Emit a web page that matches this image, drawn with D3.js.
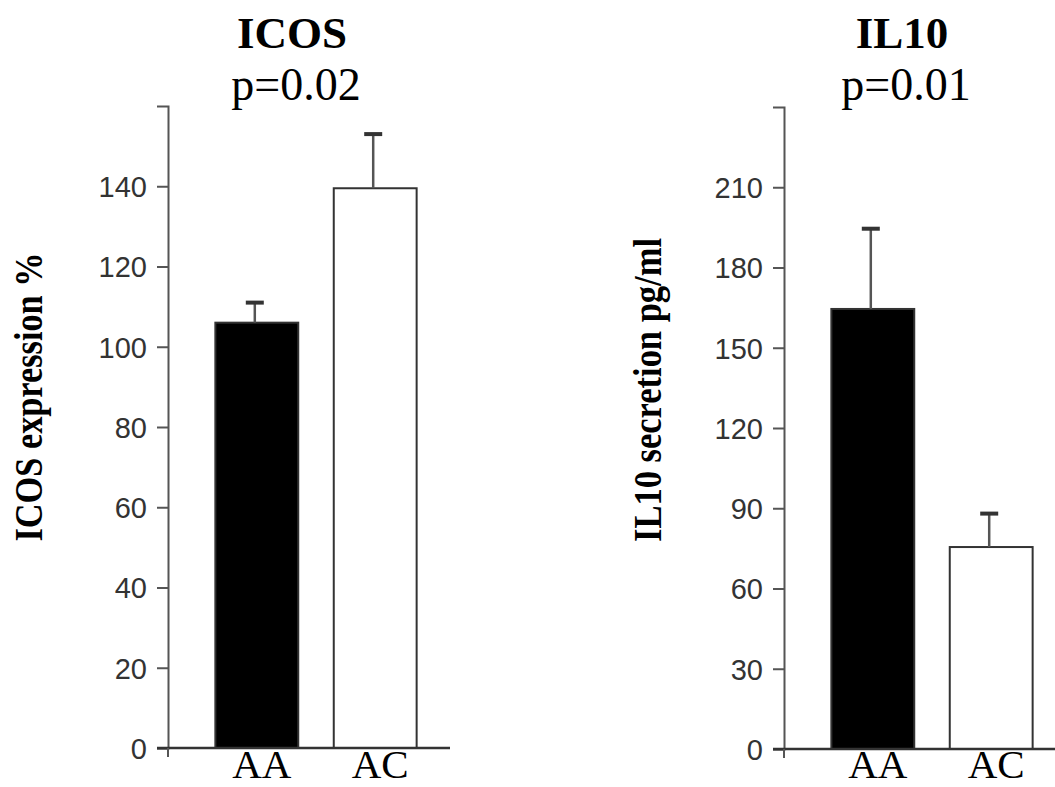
<!DOCTYPE html>
<html>
<head>
    <script src="https://cdnjs.cloudflare.com/ajax/libs/d3/7.8.5/d3.min.js"></script>
    <style>
        body { margin: 0; background: white; }
        .tick text {
            font-family: "Liberation Sans", Arial, sans-serif;
            font-size: 29px;
            fill: #333;
        }
        .title {
            font-family: "Liberation Serif", "Times New Roman", serif;
            font-weight: bold;
            font-size: 45px;
            text-anchor: middle;
        }
        .pval {
            font-family: "Liberation Serif", "Times New Roman", serif;
            font-size: 46px;
            text-anchor: middle;
        }
        .ylabel {
            font-family: "Liberation Serif", "Times New Roman", serif;
            font-weight: bold;
            font-size: 41px;
            text-anchor: middle;
        }
        .cat {
            font-family: "Liberation Serif", "Times New Roman", serif;
            font-size: 41px;
            text-anchor: middle;
        }
    </style>
</head>
<body>
    <svg width="1055" height="787"></svg>
    <script>
        // Data
        const groups = ["AA", "AC"];
        const icosMeans = [106, 139.5];
        const icosErrors = [5, 13.5];
        const icosTicks = [0, 20, 40, 60, 80, 100, 120, 140];
        const il10Means = [164.5, 75.5];
        const il10Errors = [30, 12.5];
        const il10Ticks = [0, 30, 60, 90, 120, 150, 180, 210];
        const barColors = ["#000", "#fff"];

        const svg = d3.select("svg");

        const panels = [
            {
                title: "ICOS", p: "p=0.02", ylabel: "ICOS expression %",
                means: icosMeans, errors: icosErrors, ticks: icosTicks, yMax: 160,
                left: 168, top: 106, bottom: 748, right: 450,
                titleX: 292, labelX: 42, labelY: 397, labelLen: 289
            },
            {
                title: "IL10", p: "p=0.01", ylabel: "IL10 secretion pg/ml",
                means: il10Means, errors: il10Errors, ticks: il10Ticks, yMax: 240,
                left: 784, top: 107, bottom: 749, right: 1055,
                titleX: 902, labelX: 661, labelY: 390, labelLen: 304
            }
        ];

        panels.forEach(p => {
            const g = svg.append("g");

            const x = d3.scaleBand()
                .domain(groups)
                .range([p.left, p.left + 296])
                .paddingInner(0.3)
                .paddingOuter(0.4);

            const y = d3.scaleLinear()
                .domain([0, p.yMax])
                .range([p.bottom, p.top]);

            // bars
            g.selectAll(".bar")
                .data(groups)
                .enter()
                .append("rect")
                .attr("x", d => x(d))
                .attr("y", (d, i) => y(p.means[i]))
                .attr("width", x.bandwidth())
                .attr("height", (d, i) => y(0) - y(p.means[i]))
                .attr("fill", (d, i) => barColors[i])
                .attr("stroke", "#333")
                .attr("stroke-width", 2);

            // error bars
            const cx = d => x(d) + x.bandwidth() / 2 - 2;
            g.selectAll(".err")
                .data(groups)
                .enter()
                .append("line")
                .attr("x1", cx)
                .attr("x2", cx)
                .attr("y1", (d, i) => y(p.means[i]))
                .attr("y2", (d, i) => y(p.means[i] + p.errors[i]))
                .attr("stroke", "#555")
                .attr("stroke-width", 2.5);

            g.selectAll(".cap")
                .data(groups)
                .enter()
                .append("line")
                .attr("x1", d => cx(d) - 9)
                .attr("x2", d => cx(d) + 9)
                .attr("y1", (d, i) => y(p.means[i] + p.errors[i]))
                .attr("y2", (d, i) => y(p.means[i] + p.errors[i]))
                .attr("stroke", "#333")
                .attr("stroke-width", 4);

            // y axis
            const yAxis = g.append("g")
                .attr("transform", `translate(${p.left},0)`)
                .call(d3.axisLeft(y)
                    .tickValues(p.ticks)
                    .tickSize(11)
                    .tickPadding(10));
            yAxis.selectAll("path, line")
                .attr("stroke", "#555")
                .attr("stroke-width", 2);
            yAxis.selectAll("text").attr("dy", "0.36em");

            // x baseline
            g.append("line")
                .attr("x1", p.left - 11)
                .attr("x2", p.right)
                .attr("y1", y(0))
                .attr("y2", y(0))
                .attr("stroke", "#333")
                .attr("stroke-width", 2.5);
            g.append("line")
                .attr("x1", p.left)
                .attr("x2", p.left)
                .attr("y1", y(0))
                .attr("y2", y(0) + 9)
                .attr("stroke", "#555")
                .attr("stroke-width", 2);

            // category labels
            g.selectAll(".cat")
                .data(groups)
                .enter()
                .append("text")
                .attr("class", "cat")
                .attr("x", d => x(d) + x.bandwidth() / 2 + 5)
                .attr("y", 778)
                .text(d => d);

            // titles
            g.append("text")
                .attr("class", "title")
                .attr("x", p.titleX)
                .attr("y", 48)
                .text(p.title);
            g.append("text")
                .attr("class", "pval")
                .attr("x", p.titleX + 4)
                .attr("y", 100)
                .text(p.p);

            // y label
            g.append("text")
                .attr("class", "ylabel")
                .attr("transform", `translate(${p.labelX},${p.labelY}) rotate(-90)`)
                .attr("textLength", p.labelLen)
                .attr("lengthAdjust", "spacingAndGlyphs")
                .text(p.ylabel);
        });
    </script>
</body>
</html>
